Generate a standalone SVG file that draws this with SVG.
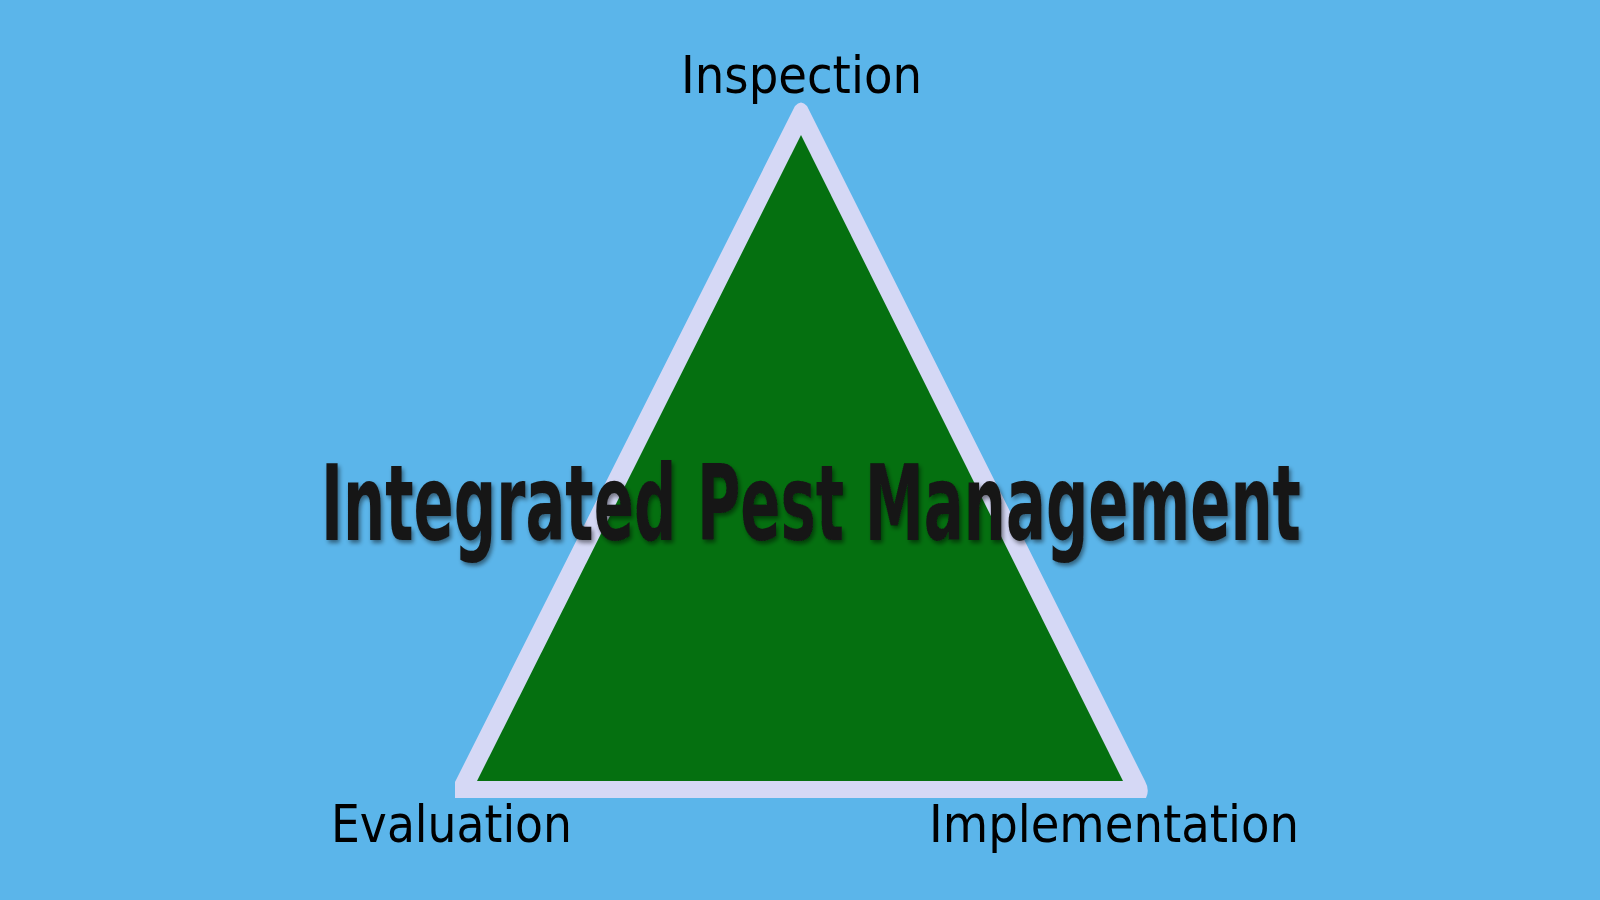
<svg xmlns="http://www.w3.org/2000/svg" width="1600" height="900" viewBox="0 0 1600 900">
  <style>
    .label { font-family: "DejaVu Sans", "Noto Sans", sans-serif; font-size: 51px; fill: #000000; }
    .title { font-family: "DejaVu Sans", "Noto Sans", sans-serif; font-size: 106px; font-weight: bold; fill: #161616; }
  </style>
  <defs>
    <filter id="emboss" filterUnits="userSpaceOnUse" x="0" y="380" width="1600" height="240">
      <feDropShadow dx="2" dy="3" stdDeviation="2" flood-color="#000000" flood-opacity="0.45"/>
    </filter>
  </defs>
  <rect id="background" x="0" y="0" width="1600" height="900" fill="#5bb5ea"/>
  <g id="triangle">
    <path d="M 455,782 L 795,106 Q 801,99 807,106 L 1145,781 Q 1150,790 1146,798 L 455,798 Z" fill="#d5d8f5"/>
    <polygon points="801,135 477,781 1123,781" fill="#057010"/>
  </g>
  <g id="node-inspection">
    <text class="label" x="681" y="93" textLength="241" lengthAdjust="spacingAndGlyphs">Inspection</text>
  </g>
  <g id="node-evaluation">
    <text class="label" x="331" y="842" textLength="241" lengthAdjust="spacingAndGlyphs">Evaluation</text>
  </g>
  <g id="node-implementation">
    <text class="label" x="929" y="842" textLength="370" lengthAdjust="spacingAndGlyphs">Implementation</text>
  </g>
  <g id="node-title" filter="url(#emboss)">
    <text class="title" transform="translate(321,540) scale(0.559,1)" x="0" y="0" textLength="1753" lengthAdjust="spacingAndGlyphs">Integrated Pest Management</text>
  </g>
</svg>
